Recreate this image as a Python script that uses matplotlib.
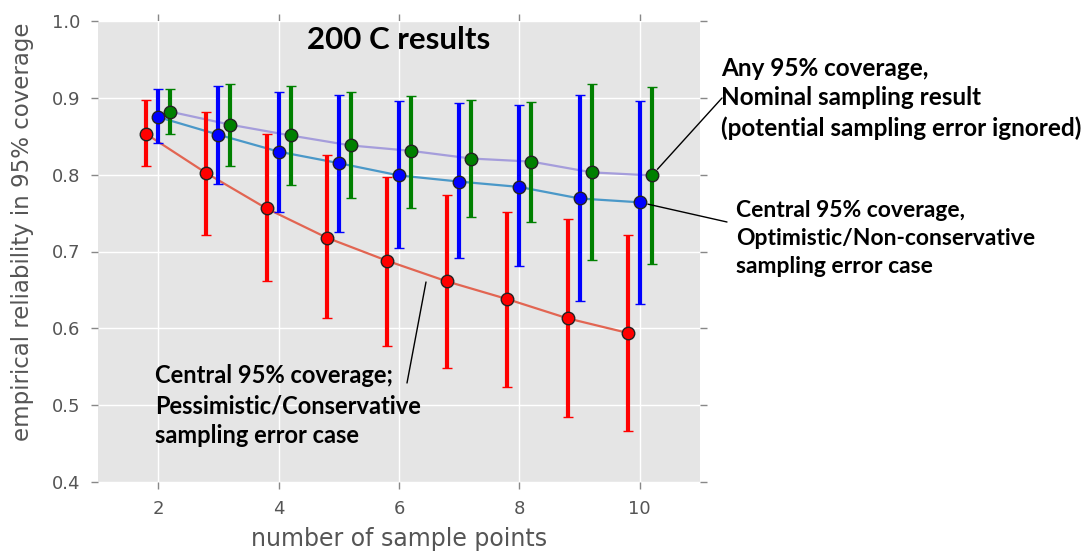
import matplotlib
matplotlib.use("Agg")
import matplotlib.pyplot as plt
import numpy as np

# Number of sample points along the x axis
sample_points = np.array([2, 3, 4, 5, 6, 7, 8, 9, 10])

# Central 95% coverage, pessimistic / conservative sampling error case
pess_mean = [0.853, 0.802, 0.756, 0.718, 0.688, 0.661, 0.638, 0.613, 0.594]
pess_low = [0.811, 0.721, 0.661, 0.613, 0.577, 0.549, 0.524, 0.485, 0.467]
pess_high = [0.897, 0.881, 0.853, 0.825, 0.797, 0.774, 0.752, 0.742, 0.721]

# Central 95% coverage, optimistic / non-conservative sampling error case
opt_mean = [0.875, 0.852, 0.830, 0.815, 0.799, 0.791, 0.784, 0.769, 0.764]
opt_low = [0.841, 0.788, 0.751, 0.726, 0.704, 0.691, 0.681, 0.635, 0.632]
opt_high = [0.911, 0.915, 0.908, 0.904, 0.896, 0.893, 0.891, 0.904, 0.896]

# Any 95% coverage, nominal sampling result
nom_mean = [0.882, 0.865, 0.851, 0.838, 0.831, 0.821, 0.817, 0.803, 0.799]
nom_low = [0.853, 0.811, 0.787, 0.769, 0.756, 0.745, 0.739, 0.689, 0.684]
nom_high = [0.911, 0.918, 0.915, 0.908, 0.902, 0.897, 0.895, 0.918, 0.914]

x_ticks = [2, 4, 6, 8, 10]
y_ticks = [0.4, 0.5, 0.6, 0.7, 0.8, 0.9, 1.0]

W, H = 1092, 556
fig = plt.figure(figsize=(W / 100, H / 100), dpi=100)
fig.patch.set_facecolor("white")
ax = fig.add_axes([98 / W, 74 / H, 602 / W, 461 / H])

ax.set_facecolor("#E5E5E5")
for sp in ax.spines.values():
    sp.set_visible(False)
ax.grid(True, color="white", linewidth=1.0)
ax.set_axisbelow(True)

series = [
    (-0.2, pess_mean, pess_low, pess_high, "#E26552", "red"),
    (0.0, opt_mean, opt_low, opt_high, "#4A98C8", "blue"),
    (0.2, nom_mean, nom_low, nom_high, "#A59DDB", "green"),
]

for off, mean, low, high, line_col, mark_col in series:
    xs = sample_points + off
    mean = np.asarray(mean)
    yerr = [mean - np.asarray(low), np.asarray(high) - mean]
    ax.plot(xs, mean, color=line_col, linewidth=1.6, zorder=2)
    ax.errorbar(xs, mean, yerr=yerr, fmt="o", color=mark_col,
                ecolor=mark_col, elinewidth=3, capsize=3.3, capthick=2,
                markersize=9, markeredgecolor="#222222",
                markeredgewidth=1.0, zorder=3)

ax.set_xlim(1, 11)
ax.set_ylim(0.4, 1.0)
ax.set_xticks(x_ticks)
ax.set_yticks(y_ticks)
ax.set_yticklabels([f"{v:.1f}" for v in y_ticks])
ax.tick_params(axis="both", which="both", direction="out", length=5,
               width=1, color="#888888", labelcolor="#555555",
               labelsize=13, pad=8, top=True, right=True)

ax.set_xlabel("number of sample points", fontsize=17, color="#555555")
ax.set_ylabel("empirical reliability in 95% coverage", fontsize=16.5,
              color="#555555")
ax.xaxis.set_label_coords(0.5, -0.098)
ax.yaxis.set_label_coords(-0.106, 0.542)

bold = dict(family="Lato", fontweight="bold", color="black")

fig.text(399 / W, 1 - 40 / H, "200 C results", ha="center", va="center",
         fontsize=22.5, **bold)

fig.text(155 / W, 1 - 364 / H,
         "Central 95% coverage;\nPessimistic/Conservative\nsampling error case",
         ha="left", va="top", fontsize=17, linespacing=1.38, **bold)
fig.text(721 / W, 1 - 57 / H,
         "Any 95% coverage,\nNominal sampling result\n(potential sampling error ignored)",
         ha="left", va="top", fontsize=17.5, linespacing=1.34, **bold)
fig.text(736 / W, 1 - 200 / H,
         "Central 95% coverage,\nOptimistic/Non-conservative\nsampling error case",
         ha="left", va="top", fontsize=16.5, linespacing=1.42, **bold)

leader = dict(arrowstyle="-", color="black", lw=1.0, shrinkA=0)
ax.annotate("", xy=(sample_points[-1] + 0.2, nom_mean[-1]),
            xytext=(722, H - 98), textcoords="figure pixels",
            arrowprops=dict(leader, shrinkB=6))
ax.annotate("", xy=(sample_points[-1], opt_mean[-1]),
            xytext=(727, H - 222), textcoords="figure pixels",
            arrowprops=dict(leader, shrinkB=6))
ax.annotate("", xy=(426, H - 282), xycoords="figure pixels",
            xytext=(407, H - 383), textcoords="figure pixels",
            arrowprops=dict(leader, shrinkB=0))

fig.savefig("out.png", dpi=100)
